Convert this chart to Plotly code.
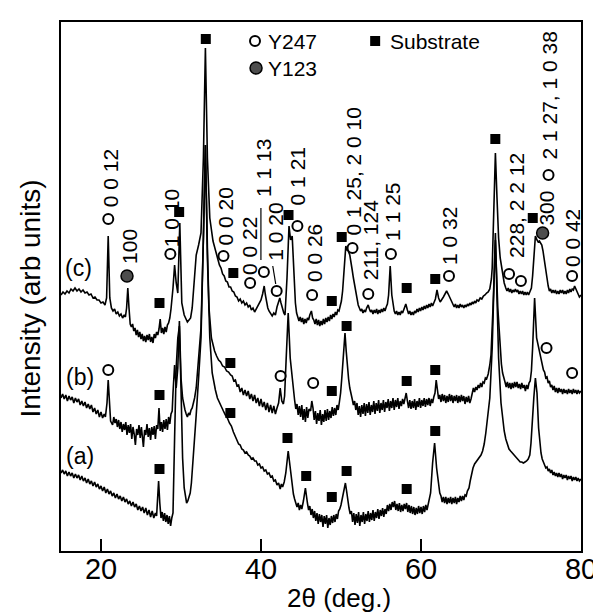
import plotly.graph_objects as go

# ---------------- data (2theta in degrees, intensity in arb. units) ----------------
# curve (c)
c_x = [15.0,15.25,15.5,15.75,16.0,16.25,16.5,16.75,17.0,17.25,17.5,17.75,18.0,18.25,18.5,18.75,19.0,19.25,19.5,19.75,
       20.0,20.25,20.5,20.7,20.9,21.1,21.3,21.5,21.7,21.9,22.1,22.3,22.5,22.7,22.9,23.05,23.2,23.35,23.5,23.65,
       23.8,23.95,24.1,24.25,24.4,24.55,24.7,24.85,25.0,25.15,25.3,25.45,25.6,25.75,25.9,26.05,26.2,26.35,26.5,26.65,
       26.8,26.95,27.1,27.25,27.4,27.55,27.7,27.85,28.0,28.15,28.3,28.45,28.6,28.75,29.0,29.2,29.4,29.6,29.85,30.1,
       30.4,30.6,30.8,31.0,31.2,31.4,31.7,31.9,32.2,32.5,32.8,33.05,33.3,33.6,34.0,34.2,34.4,34.6,34.8,35.0,
       35.2,35.4,35.6,35.8,36.0,36.2,36.4,36.6,36.8,37.0,37.2,37.4,37.6,37.8,38.0,38.2,38.4,38.6,38.8,39.0,
       39.2,39.4,39.6,39.8,40.0,40.2,40.4,40.55,40.7,40.85,41.0,41.2,41.4,41.6,41.8,42.0,42.2,42.35,42.5,42.7,
       42.85,43.0,43.25,43.5,43.7,43.9,44.1,44.3,44.45,44.6,44.75,44.9,45.05,45.2,45.35,45.5,45.65,45.8,45.95,46.1,
       46.3,46.45,46.6,46.75,46.9,47.05,47.2,47.35,47.5,47.65,47.8,47.95,48.1,48.25,48.4,48.55,48.7,48.85,49.0,49.15,
       49.3,49.45,49.6,49.75,49.9,50.05,50.2,50.4,50.6,50.75,50.9,51.1,51.25,51.4,51.55,51.7,51.85,52.0,52.15,52.3,
       52.45,52.6,52.75,52.9,53.05,53.2,53.4,53.55,53.7,53.85,54.0,54.15,54.3,54.45,54.6,54.75,54.9,55.05,55.2,55.35,
       55.5,55.65,55.8,55.95,56.15,56.35,56.5,56.65,56.8,56.95,57.1,57.25,57.4,57.55,57.7,57.9,58.1,58.3,58.45,58.6,
       58.75,58.9,59.05,59.2,59.35,59.5,59.65,59.8,59.95,60.1,60.25,60.4,60.55,60.7,60.85,61.0,61.15,61.3,61.45,61.6,
       61.8,62.0,62.2,62.4,62.6,62.8,63.0,63.2,63.4,63.6,63.8,64.0,64.15,64.3,64.45,64.6,64.75,64.9,65.05,65.2,
       65.35,65.5,65.65,65.8,65.95,66.1,66.25,66.4,66.55,66.7,66.85,67.0,67.2,67.4,67.6,67.8,68.0,68.2,68.4,68.6,
       68.8,68.9,69.1,69.3,69.5,69.7,69.9,70.05,70.2,70.4,70.6,70.75,70.9,71.05,71.2,71.35,71.5,71.65,71.8,71.95,
       72.1,72.25,72.4,72.55,72.7,72.85,73.0,73.15,73.3,73.45,73.6,73.8,73.95,74.1,74.3,74.5,74.65,74.8,74.95,75.1,
       75.25,75.4,75.5,75.6,75.75,75.9,76.05,76.2,76.35,76.5,76.65,76.8,76.95,77.1,77.25,77.4,77.55,77.7,77.85,78.0,
       78.15,78.3,78.45,78.6,78.75,78.9,79.05,79.2,79.35,79.5,79.65,79.8,80.0]
c_y = [256,259,257,260,258,262,260,263,260,262,259,261,258,259,256,257,253,254,251,251,
       248,249,246,253,315,253,243,240,242,237,239,235,237,233,236,234,243,263,243,227,
       224,227,220,223,216,221,214,219,212,217,210,215,209,216,211,217,209,214,208,217,
       213,219,216,222,232,218,223,217,224,219,226,228,233,242,263,286,268,258,328,248,
       236,232,229,231,233,243,273,296,306,318,393,503,393,333,310,303,297,292,286,283,
       277,275,270,269,264,264,260,259,255,254,250,252,248,250,246,248,244,246,241,243,
       239,242,244,247,251,257,265,256,248,243,240,237,235,238,236,244,251,253,248,241,
       238,236,273,325,311,315,273,248,238,235,230,234,229,233,227,232,228,233,231,236,
       240,233,231,227,232,226,231,225,230,226,232,227,233,229,234,230,236,232,237,234,
       239,236,241,240,245,250,260,285,305,301,300,296,290,281,273,266,258,251,246,243,
       240,242,238,241,239,243,246,242,239,241,237,241,238,242,237,241,238,242,239,243,
       240,244,247,256,285,256,245,240,237,240,236,239,236,240,238,242,247,241,237,240,
       236,239,236,240,238,242,239,243,240,244,241,245,242,246,243,247,244,248,245,248,
       252,261,253,249,251,254,257,260,257,253,249,247,244,247,243,246,243,247,244,246,
       243,246,244,247,245,248,246,249,247,250,248,251,250,253,252,255,256,258,259,262,
       272,283,343,398,353,313,293,284,276,268,263,260,263,259,262,258,261,259,262,259,
       261,257,260,257,260,256,259,256,259,256,259,263,275,296,315,311,309,310,307,306,
       300,293,288,283,273,265,260,262,258,261,258,261,257,260,257,261,258,261,257,260,
       257,261,258,262,259,262,261,265,262,258,257,254,256]

# curve (b)
b_x = [15.0,15.2,15.4,15.6,15.8,16.0,16.2,16.4,16.6,16.8,17.0,17.2,17.4,17.6,17.8,18.0,18.2,18.4,18.6,18.8,
       19.0,19.2,19.4,19.6,19.8,20.0,20.2,20.4,20.55,20.75,20.9,21.05,21.2,21.45,21.6,21.75,21.9,22.05,22.2,22.35,
       22.5,22.65,22.8,22.95,23.1,23.25,23.4,23.55,23.7,23.85,24.0,24.15,24.3,24.45,24.6,24.75,24.9,25.05,25.2,25.3,
       25.45,25.6,25.75,25.9,26.05,26.2,26.35,26.5,26.65,26.8,26.95,27.1,27.25,27.4,27.55,27.7,27.85,28.0,28.15,28.3,
       28.45,28.6,28.75,28.9,29.0,29.2,29.4,29.6,29.8,30.0,30.2,30.35,30.5,30.65,30.8,30.95,31.1,31.25,31.4,31.55,
       31.7,31.9,32.2,32.5,32.8,33.05,33.3,33.5,33.8,34.0,34.2,34.45,34.7,34.95,35.2,35.45,35.7,35.95,36.2,36.4,
       36.6,36.8,37.0,37.2,37.4,37.6,37.8,38.0,38.2,38.4,38.6,38.8,39.0,39.2,39.4,39.6,39.8,40.0,40.2,40.4,
       40.6,40.8,41.0,41.2,41.4,41.6,41.8,42.0,42.2,42.4,42.6,42.8,42.95,43.15,43.4,43.65,43.9,44.05,44.2,44.35,
       44.5,44.65,44.8,44.95,45.1,45.25,45.4,45.55,45.7,45.85,46.0,46.2,46.35,46.5,46.65,46.8,46.95,47.1,47.25,47.4,
       47.55,47.7,47.85,48.0,48.15,48.3,48.45,48.6,48.75,48.9,49.05,49.2,49.35,49.5,49.65,49.8,49.95,50.1,50.3,50.5,
       50.65,50.8,50.95,51.1,51.25,51.4,51.55,51.7,51.85,52.0,52.15,52.3,52.45,52.6,52.75,52.9,53.05,53.2,53.35,53.5,
       53.65,53.8,53.95,54.1,54.25,54.4,54.55,54.7,54.85,55.0,55.15,55.3,55.45,55.6,55.75,55.9,56.05,56.2,56.35,56.5,
       56.65,56.8,56.95,57.1,57.25,57.4,57.55,57.7,57.85,58.0,58.15,58.3,58.45,58.6,58.75,58.9,59.05,59.2,59.35,59.5,
       59.65,59.8,59.95,60.1,60.25,60.4,60.55,60.7,60.85,61.0,61.15,61.3,61.45,61.6,61.75,61.9,62.05,62.2,62.35,62.5,
       62.65,62.8,62.95,63.1,63.25,63.4,63.55,63.7,63.85,64.0,64.15,64.3,64.45,64.6,64.75,64.9,65.05,65.2,65.35,65.5,
       65.65,65.8,65.95,66.1,66.25,66.4,66.55,66.7,66.85,67.0,67.15,67.3,67.45,67.6,67.75,67.9,68.05,68.2,68.4,68.6,
       68.75,69.0,69.3,69.6,69.9,70.05,70.2,70.35,70.5,70.65,70.8,70.95,71.1,71.25,71.4,71.55,71.7,71.85,72.0,72.15,
       72.3,72.45,72.6,72.75,72.9,73.05,73.2,73.35,73.5,73.65,73.8,73.95,74.2,74.45,74.7,74.85,75.0,75.15,75.3,75.45,
       75.6,75.75,75.9,76.05,76.2,76.35,76.5,76.65,76.8,76.95,77.1,77.25,77.4,77.55,77.7,77.85,78.0,78.15,78.3,78.45,
       78.6,78.75,78.9,79.05,79.2,79.35,79.5,79.65,79.8,80.0]
b_y = [153,157,152,156,150,155,151,154,148,153,149,152,146,150,145,149,143,147,142,146,
       139,143,137,141,134,139,133,137,134,148,171,148,130,126,134,128,132,124,131,122,
       129,119,127,121,129,116,126,118,127,112,124,117,106,122,116,126,113,124,110,104,
       121,116,127,114,123,111,124,116,125,112,126,122,143,120,129,119,131,122,132,121,
       134,127,137,140,158,186,163,183,230,173,153,146,141,137,134,138,136,141,143,148,
       153,163,193,223,313,406,303,243,213,205,200,195,191,189,185,184,180,179,176,175,
       170,171,165,166,159,163,156,161,155,160,152,157,150,156,148,153,145,152,144,149,
       141,148,139,146,138,145,137,143,148,163,150,147,155,193,238,193,170,158,151,142,
       147,136,145,134,146,131,142,129,144,133,142,140,150,143,131,140,127,138,130,141,
       126,137,129,141,130,142,131,140,133,144,135,143,136,146,141,149,158,173,200,218,
       200,183,172,163,155,152,146,150,141,148,136,145,134,146,137,148,135,147,138,149,
       136,146,139,150,137,148,140,151,138,148,141,151,139,149,143,152,140,150,143,153,
       141,151,144,153,142,150,145,152,147,152,158,150,143,151,142,150,143,152,141,150,
       144,153,143,151,145,153,144,152,146,153,145,152,148,154,158,171,158,152,156,149,
       157,150,156,148,155,149,157,150,156,148,155,150,156,148,155,149,156,150,155,147,
       154,149,155,148,152,158,163,159,164,161,166,163,168,164,169,168,173,172,177,186,
       196,243,311,243,198,187,178,172,169,164,169,163,168,162,168,163,169,164,169,163,
       167,162,168,163,166,160,166,162,168,170,180,203,253,213,203,199,193,188,181,179,
       173,174,168,170,164,166,161,165,159,163,158,163,159,162,157,162,158,161,157,162,
       158,161,157,162,158,161,157,161,158,160]

# curve (a)
a_x = [15.0,15.2,15.4,15.6,15.8,16.0,16.2,16.4,16.6,16.8,17.0,17.2,17.4,17.6,17.8,18.0,18.2,18.4,18.6,18.8,
       19.0,19.2,19.4,19.6,19.8,20.0,20.2,20.4,20.6,20.8,21.0,21.2,21.4,21.6,21.8,22.0,22.2,22.4,22.6,22.8,
       23.0,23.2,23.4,23.6,23.8,24.0,24.2,24.4,24.6,24.8,25.0,25.2,25.4,25.6,25.8,26.0,26.2,26.4,26.6,26.8,
       26.95,27.1,27.2,27.35,27.5,27.65,27.8,27.95,28.1,28.25,28.4,28.55,28.7,28.85,29.0,29.2,29.4,29.6,29.8,30.0,
       30.2,30.4,30.55,30.7,30.85,31.0,31.15,31.3,31.45,31.6,31.9,32.2,32.5,32.8,33.05,33.3,33.6,33.9,34.1,34.3,
       34.55,34.8,35.05,35.3,35.55,35.8,36.05,36.3,36.55,36.8,37.0,37.2,37.4,37.6,37.8,38.0,38.2,38.4,38.6,38.8,
       39.0,39.2,39.4,39.6,39.8,40.0,40.2,40.4,40.6,40.8,41.0,41.2,41.4,41.6,41.8,42.0,42.2,42.4,42.55,42.7,
       42.9,43.1,43.4,43.7,43.9,44.05,44.2,44.35,44.5,44.65,44.8,44.95,45.1,45.3,45.55,45.8,45.95,46.1,46.25,46.4,
       46.55,46.7,46.85,47.0,47.15,47.3,47.45,47.6,47.75,47.9,48.05,48.2,48.35,48.5,48.65,48.8,48.95,49.1,49.25,49.4,
       49.55,49.7,49.85,50.0,50.2,50.4,50.55,50.7,50.85,51.0,51.15,51.3,51.45,51.6,51.75,51.9,52.05,52.2,52.35,52.5,
       52.65,52.8,52.95,53.1,53.25,53.4,53.55,53.7,53.85,54.0,54.15,54.3,54.45,54.6,54.75,54.9,55.05,55.2,55.35,55.5,
       55.65,55.8,55.95,56.1,56.25,56.4,56.55,56.7,56.85,57.0,57.15,57.3,57.45,57.6,57.75,57.9,58.05,58.2,58.35,58.5,
       58.65,58.8,58.95,59.1,59.25,59.4,59.55,59.7,59.85,60.0,60.15,60.3,60.45,60.6,60.75,60.9,61.05,61.2,61.45,61.7,
       61.95,62.2,62.35,62.5,62.65,62.8,62.95,63.1,63.25,63.4,63.55,63.7,63.85,64.0,64.15,64.3,64.45,64.6,64.75,64.9,
       65.05,65.2,65.35,65.5,65.65,65.8,66.0,66.15,66.3,66.5,66.7,66.9,67.1,67.3,67.5,67.7,67.9,68.1,68.3,68.6,
       68.9,69.1,69.3,69.5,69.7,70.0,70.2,70.4,70.6,70.8,71.0,71.2,71.4,71.6,71.8,72.0,72.2,72.4,72.6,72.8,
       73.0,73.2,73.4,73.6,73.75,73.85,74.1,74.3,74.5,74.7,74.85,75.0,75.15,75.3,75.45,75.6,75.75,75.9,76.05,76.2,
       76.35,76.5,76.65,76.8,76.95,77.1,77.25,77.4,77.55,77.7,77.85,78.0,78.15,78.3,78.45,78.6,78.75,78.9,79.05,79.2,
       79.35,79.5,79.65,79.8,80.0]
a_y = [78,81,77,80,75,79,75,78,73,77,73,76,71,75,70,73,68,72,67,70,
       65,69,64,67,62,65,60,64,58,62,57,60,55,58,53,57,52,55,50,54,
       49,52,47,50,45,49,44,47,41,45,40,44,38,43,36,41,34,40,33,38,
       35,63,70,48,33,39,30,38,29,36,27,35,25,33,38,113,183,213,225,163,
       93,63,53,48,50,53,58,68,83,103,136,173,213,313,406,293,213,178,168,161,
       153,148,143,140,136,133,128,125,119,115,111,107,106,102,101,98,99,96,95,92,
       93,90,90,86,87,83,84,80,81,77,78,74,75,70,71,66,68,62,67,64,
       69,78,100,78,63,57,52,49,44,48,41,46,42,50,63,48,41,45,36,42,
       33,40,30,38,27,37,29,36,24,35,27,36,23,33,26,35,28,36,29,37,
       32,40,42,46,55,63,68,60,50,43,37,40,29,38,26,37,28,39,25,36,
       29,39,27,37,30,40,29,38,31,41,30,39,33,42,32,41,35,43,34,42,
       37,46,40,47,41,49,44,50,41,47,40,48,39,46,40,47,42,48,39,46,
       38,45,37,44,36,43,37,45,38,44,37,45,39,46,41,47,50,58,88,108,
       83,66,58,55,49,54,48,54,47,53,48,54,47,53,48,54,47,53,49,55,
       50,55,51,56,55,60,63,70,76,83,87,89,91,93,96,100,107,118,130,153,
       203,263,318,253,193,148,132,120,112,106,102,100,98,96,94,92,91,89,89,88,
       89,90,92,96,108,123,153,173,158,123,108,98,92,88,86,83,84,80,82,78,
       81,76,79,75,78,74,78,74,77,72,76,73,76,71,75,72,75,70,74,71,
       74,70,73,70,72]

# phase markers
y247_x = [20.91,28.67,35.31,38.64,40.36,41.96,44.55,46.39,51.44,53.41,56.24,63.50,71.01,72.49,75.94,78.89,
          20.91,42.45,46.52,75.69,78.89]
y247_y = [332,297,295,268,279,260,325,256,303,257,297,275,277,270,376,275,
          181,175,168,203,178]
y123_x = [23.25,75.20]
y123_y = [275,318]
sub_x = [27.31,29.77,33.10,36.54,43.44,48.85,50.09,58.21,61.78,69.29,73.97,
         27.31,36.17,48.85,50.70,58.21,61.78,
         27.31,36.17,43.31,45.65,48.85,50.70,58.21,61.78]
sub_y = [248,339,512,278,336,250,314,263,272,412,333,
         156,188,160,225,170,181,
         82,138,113,75,54,80,62,120]

# reflection labels
lbl_text = ["0 0 12","100","1 0 10","0 0 20","0 0 22","1 1 13","1 0 20","0 1 21","0 0 26",
            "0 1 25, 2 0 10","211, 124","1 1 25","1 0 32","228, 2 2 12","300","2 1 27, 1 0 38","0 0 42"]
lbl_x = [21.16,23.49,28.79,35.56,38.51,40.24,41.71,44.55,46.64,51.56,53.66,56.36,63.50,71.87,75.57,75.94,78.89]
lbl_y = [373,305,333,335,305,383,319,375,298,380,311,339,315,346,343,455,313]

curve_names = ["(a)","(b)","(c)"]
curve_lbl_x = [17.35,17.35,17.2]
curve_lbl_y = [95,174,283]

legend_names = ["Y247","Y123","Substrate"]
xtick_vals = [20, 40, 60, 80]

FONT = "Liberation Sans, Arial, Helvetica, sans-serif"
fig = go.Figure()

for xs, ys in [(a_x, a_y), (b_x, b_y), (c_x, c_y)]:
    fig.add_trace(go.Scatter(x=xs, y=ys, mode="lines",
                             line=dict(color="black", width=1.6), showlegend=False,
                             hoverinfo="skip"))

fig.add_trace(go.Scatter(x=sub_x, y=sub_y, mode="markers", showlegend=False,
                         marker=dict(symbol="square", size=10, color="black")))
fig.add_trace(go.Scatter(x=y247_x, y=y247_y, mode="markers", showlegend=False,
                         marker=dict(symbol="circle", size=10, color="white",
                                     line=dict(color="black", width=2))))
fig.add_trace(go.Scatter(x=y123_x, y=y123_y, mode="markers", showlegend=False,
                         marker=dict(symbol="circle", size=12, color="#4d4d4d",
                                     line=dict(color="black", width=1.5))))

# legend (drawn inside the plot like the original)
fig.add_trace(go.Scatter(x=[39.25], y=[510], mode="markers", showlegend=False,
                         marker=dict(symbol="circle", size=10, color="white",
                                     line=dict(color="black", width=2))))
fig.add_trace(go.Scatter(x=[39.38], y=[483], mode="markers", showlegend=False,
                         marker=dict(symbol="circle", size=12, color="#4d4d4d",
                                     line=dict(color="black", width=1.5))))
fig.add_trace(go.Scatter(x=[54.27], y=[510], mode="markers", showlegend=False,
                         marker=dict(symbol="square", size=10, color="black")))

ann = []
for t, x, y in zip(legend_names, [40.61, 40.61, 55.87], [510, 483, 510]):
    ann.append(dict(x=x, y=y, xref="x", yref="y", text=t, showarrow=False,
                    xanchor="left", yanchor="middle", font=dict(size=21, color="black", family=FONT)))
for t, x, y in zip(lbl_text, lbl_x, lbl_y):
    ann.append(dict(x=x, y=y, xref="x", yref="y", text=t, showarrow=False, textangle=-90,
                    xanchor="center", yanchor="middle", font=dict(size=21, color="black", family=FONT)))
for t, x, y in zip(curve_names, curve_lbl_x, curve_lbl_y):
    ann.append(dict(x=x, y=y, xref="x", yref="y", text=t, showarrow=False,
                    xanchor="center", yanchor="middle", font=dict(size=23, color="black", family=FONT)))

ann.append(dict(x=0.534, y=-0.089, xref="paper", yref="paper", text="2θ (deg.)", showarrow=False,
                xanchor="center", yanchor="middle", font=dict(size=26, color="black", family=FONT)))
ann.append(dict(x=-0.0587, y=0.478, xref="paper", yref="paper", text="Intensity (arb units)",
                showarrow=False, textangle=-90, xanchor="center", yanchor="middle",
                font=dict(size=28, color="black", family=FONT)))

shapes = [
    dict(type="line", xref="x", yref="y", x0=39.99, x1=39.99, y0=291, y1=343,
         line=dict(color="black", width=1.2)),
    dict(type="line", xref="x", yref="y", x0=41.47, x1=41.84, y0=285, y1=267,
         line=dict(color="black", width=1.2)),
]

fig.update_layout(
    width=601, height=613,
    margin=dict(l=53, r=20, t=14, b=70),
    paper_bgcolor="white", plot_bgcolor="white",
    annotations=ann, shapes=shapes,
    font=dict(family=FONT, color="black"),
    xaxis=dict(range=[15, 80], tickvals=xtick_vals, ticks="inside", ticklen=12,
               tickwidth=2, tickcolor="black", showline=True, linewidth=2, linecolor="black",
               mirror=True, showgrid=False, zeroline=False, ticklabelstandoff=-9,
               tickfont=dict(size=29, color="black", family=FONT)),
    yaxis=dict(range=[0, 529], showticklabels=False, ticks="", showline=True, linewidth=2,
               linecolor="black", mirror=True, showgrid=False, zeroline=False),
)

fig.write_html("out.html")
